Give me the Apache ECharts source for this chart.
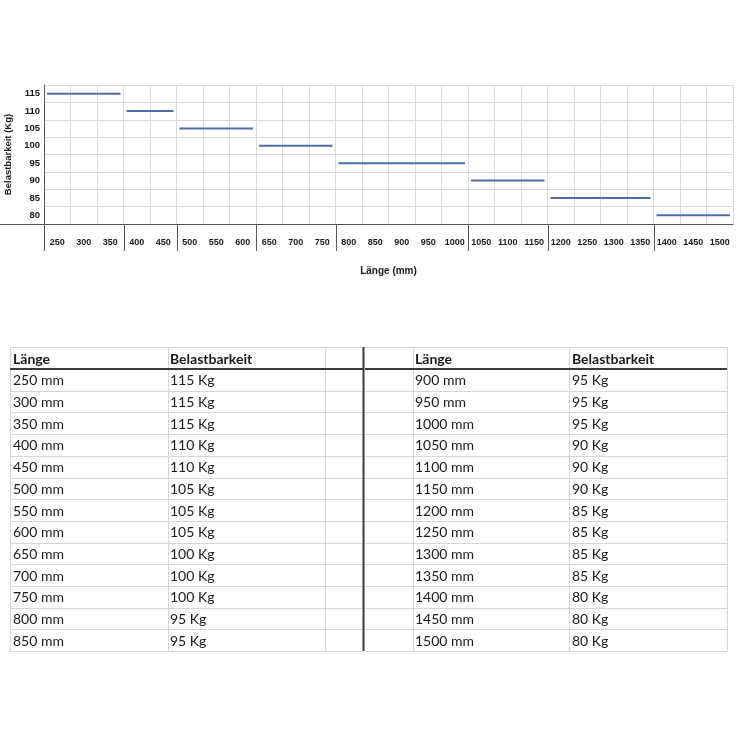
<!DOCTYPE html>
<html><head><meta charset="utf-8">
<script src="https://cdn.jsdelivr.net/npm/echarts@6/dist/echarts.min.js"></script>
<style>html,body{margin:0;padding:0;background:#fff}#c{width:736px;height:736px}</style>
</head><body><div id="c"></div>
<script>
// ---- data ----
const lengths = [250,300,350,400,450,500,550,600,650,700,750,800,850,900,950,1000,1050,1100,1150,1200,1250,1300,1350,1400,1450,1500];
const loads   = [115,115,115,110,110,105,105,105,100,100,100,95,95,95,95,95,90,90,90,85,85,85,85,80,80,80];
const yTicks  = ['80','85','90','95','100','105','110','115'];
const xLabels = lengths.map(String);
const headers = ['Länge','Belastbarkeit'];
const xTitle = 'Länge (mm)';
const yTitle = 'Belastbarkeit (Kg)';

// groups of equal load -> horizontal segments [startIdx, endIdx, yIdx]
const segments = [];
for (let i = 0; i < loads.length; i++) {
  if (i === 0 || loads[i] !== loads[i-1]) segments.push([i, i, yTicks.indexOf(String(loads[i]))]);
  else segments[segments.length-1][1] = i;
}

// ---- layout ----
const G = {left:44, top:85, width:689, height:139};
const axisY = G.top + G.height;
const dark = '#595959', grid = '#d9d9d9', ink = '#1a1a1a';
const chartFont = 'Liberation Sans, Arial, sans-serif';
const tblFont = 'Lato, "Open Sans", sans-serif';

// ---- table graphic ----
const gfx = [];
gfx.push({type:'line', shape:{x1:0, y1:axisY+0.5, x2:G.left, y2:axisY+0.5}, style:{stroke:dark, lineWidth:1}, silent:true});
const tTop = 347, hBot = 369, rowH = 21.7, nRows = Math.ceil(lengths.length/2);
const tBot = hBot + nRows*rowH;
const blocks = [
  {x0:10, x1:363, cols:[10,168,325], tx:[13,170], start:0},
  {x0:365, x1:727, cols:[413,569,727], tx:[415,572], start:nRows}
];
const light = '#d6d6d6';
blocks.forEach(b => {
  gfx.push({type:'line', shape:{x1:b.x0, y1:tTop+0.5, x2:b.x1, y2:tTop+0.5}, style:{stroke:light, lineWidth:1}, silent:true});
  for (let r = 1; r <= nRows; r++) {
    const y = Math.round(hBot + r*rowH) + 0.5;
    gfx.push({type:'line', shape:{x1:b.x0, y1:y, x2:b.x1, y2:y}, style:{stroke:light, lineWidth:1}, silent:true});
  }
  b.cols.forEach(cx => gfx.push({type:'line', shape:{x1:cx+0.5, y1:tTop, x2:cx+0.5, y2:tBot}, style:{stroke:light, lineWidth:1}, silent:true}));
  gfx.push({type:'line', shape:{x1:b.x0, y1:hBot, x2:b.x1, y2:hBot}, style:{stroke:'#3a3a3a', lineWidth:2}, silent:true});
  headers.forEach((h, k) => gfx.push({type:'text', style:{text:h, x:b.tx[k], y:(tTop+hBot)/2+1, fill:ink, font:'bold 14px ' + tblFont, verticalAlign:'middle', align:'left'}, silent:true}));
  for (let r = 0; r < nRows; r++) {
    const i = b.start + r;
    if (i >= lengths.length) break;
    const cy = hBot + (r+0.5)*rowH + 1;
    gfx.push({type:'text', style:{text:lengths[i] + ' mm', x:b.tx[0], y:cy, fill:ink, font:'14px ' + tblFont, verticalAlign:'middle', align:'left'}, silent:true});
    gfx.push({type:'text', style:{text:loads[i] + ' Kg', x:b.tx[1], y:cy, fill:ink, font:'14px ' + tblFont, verticalAlign:'middle', align:'left'}, silent:true});
  }
});
gfx.push({type:'line', shape:{x1:363.5, y1:tTop, x2:363.5, y2:tBot}, style:{stroke:'#3a3a3a', lineWidth:2}, silent:true});

const chart = echarts.init(document.getElementById('c'), null, {renderer:'canvas'});
chart.setOption({
  backgroundColor:'#ffffff',
  animation:false,
  grid:{left:G.left, top:G.top, width:G.width, height:G.height, containLabel:false, outerBoundsMode:'none'},
  xAxis:{
    type:'category', data:xLabels, boundaryGap:true,
    axisLine:{show:true, lineStyle:{color:dark, width:1}},
    axisTick:{show:false},
    axisLabel:{interval:0, margin:14, fontSize:9, fontWeight:'bold', color:ink, fontFamily:chartFont},
    splitLine:{show:true, interval:0, lineStyle:{color:grid, width:1}},
    name:xTitle, nameLocation:'middle', nameGap:42,
    nameTextStyle:{fontSize:10, fontWeight:'bold', color:ink, fontFamily:chartFont}
  },
  yAxis:{
    type:'category', data:yTicks, boundaryGap:true,
    axisLine:{show:true, lineStyle:{color:dark, width:1}},
    axisTick:{show:false},
    axisLabel:{margin:4, fontSize:9.5, fontWeight:'bold', color:ink, fontFamily:chartFont},
    splitLine:{show:true, interval:0, lineStyle:{color:grid, width:1}},
    name:yTitle, nameLocation:'middle', nameGap:30, nameRotate:90,
    nameTextStyle:{fontSize:9.5, fontWeight:'bold', color:ink, fontFamily:chartFont}
  },
  series:[{
    type:'custom', silent:true, clip:false, data:segments, encode:{x:[0,1], y:2},
    renderItem:(params, api) => {
      const s = api.coord([api.value(0), api.value(2)]);
      const e = api.coord([api.value(1), api.value(2)]);
      const bw = api.size([1, 0])[0];
      const cs = params.coordSys;
      const base = cs.y + cs.height;
      const sepX = Math.round(s[0] - bw/2) + 0.5;
      return {type:'group', children:[
        {type:'line', shape:{x1:sepX, y1:base, x2:sepX, y2:base+27}, style:{stroke:dark, lineWidth:1}},
        {type:'line', shape:{x1:s[0]-bw/2+3, y1:s[1], x2:e[0]+bw/2-3, y2:e[1]}, style:{stroke:'#4a6fa8', lineWidth:2}}
      ]};
    }
  }],
  graphic:gfx
});
</script></body></html>
